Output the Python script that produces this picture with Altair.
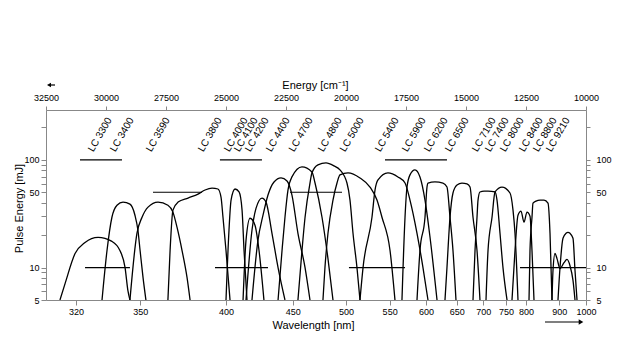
import altair as alt
import pandas as pd

# ---------------- data (wavelength in nm, pulse energy in mJ) ----------------
DYES = ["LC 3300", "LC 3400", "LC 3590", "LC 3800", "LC 4000", "LC 4100", "LC 4200",
        "LC 4400", "LC 4700", "LC 4800", "LC 5000", "LC 5400", "LC 5900", "LC 6200",
        "LC 6500", "LC 7100", "LC 7400", "LC 8000", "LC 8400", "LC 8800", "LC 9210"]

LC3300_NM = [313.3, 315.4, 319.6, 323.9, 329.7, 336.1, 339.9, 342.4, 343.8, 344.8]
LC3300_MJ = [5, 7.1, 13.5, 17.1, 19.1, 17.5, 14.4, 10.0, 6.1, 5]
LC3400_NM = [331.5, 333.8, 336.1, 338.5, 341.4, 344.8, 347.3, 348.8, 349.9, 351.4, 352.9]
LC3400_MJ = [5, 14.4, 29.3, 37.9, 40.5, 38.8, 30.6, 22.2, 14.4, 8.1, 5]
LC3590_NM = [344.8, 348.3, 350.9, 354.0, 359.3, 364.7, 367.5, 369.8, 372.7, 375.6, 377.4]
LC3590_MJ = [5, 20.8, 29.3, 36.4, 40.5, 37.9, 32.7, 23.7, 14.4, 8.1, 5]
LC3800_NM = [364.7, 365.9, 367.5, 370.4, 376.2, 382.2, 386.5, 390.9, 394.7, 396.7, 398.0, 400.0, 402.7]
LC3800_MJ = [5, 14.4, 34.1, 40.5, 44.2, 48.1, 52.5, 54.7, 53.6, 45.1, 29.3, 14.4, 5]
LC4000_NM = [400.0, 402.0, 403.4, 406.1, 408.9, 411.0, 412.4, 414.5]
LC4000_MJ = [5, 22.2, 42.3, 53.6, 50.3, 34.1, 14.4, 5]
LC4100_NM = [411.7, 413.8, 416.7, 420.3, 423.3, 427.0]
LC4100_MJ = [5, 17.9, 28.7, 24.7, 14.4, 5]
LC4200_NM = [413.8, 418.1, 421.1, 425.5, 428.6, 433.2, 438.0, 443.6]
LC4200_MJ = [5, 22.2, 35.6, 44.2, 40.5, 20.8, 10.0, 5]
LC4400_NM = [418.1, 422.5, 426.3, 430.1, 434.8, 440.4, 445.3, 449.4, 454.5, 460.7, 465.1]
LC4400_MJ = [5, 17.9, 30.6, 47.1, 62.3, 67.9, 63.7, 47.1, 20.8, 10.0, 5]
LC4700_NM = [438.0, 441.2, 443.6, 446.1, 449.4, 458.0, 466.9, 469.7, 476.2, 481.9, 486.8]
LC4700_MJ = [5, 14.4, 29.3, 52.5, 69.4, 86.0, 77.2, 60.9, 29.3, 12.1, 5]
LC4800_NM = [454.5, 458.0, 460.7, 465.1, 466.9, 472.4, 480.0, 487.8, 493.8, 501.0, 504.2, 507.4, 511.7, 515.0]
LC4800_MJ = [5, 14.4, 29.3, 60.9, 75.7, 89.8, 93.7, 87.9, 80.7, 60.9, 42.3, 20.8, 10.0, 5]
LC5000_NM = [477.1, 479.0, 481.9, 486.8, 490.8, 493.8, 502.1, 515.0, 526.3, 534.5, 540.5, 550.5, 556.8]
LC5000_MJ = [5, 10.0, 20.8, 42.3, 60.9, 72.5, 75.7, 67.9, 55.9, 42.3, 29.3, 14.4, 5]
LC5400_NM = [515.0, 518.4, 528.6, 532.2, 535.7, 547.9, 560.7, 570.1, 576.9, 586.8, 595.5, 603.0]
LC5400_MJ = [5, 10.0, 29.3, 52.5, 65.0, 75.7, 69.4, 60.9, 42.3, 20.8, 10.0, 5]
LC5900_NM = [566.0, 570.1, 572.8, 576.9, 583.9, 591.1, 598.5, 606.1, 617.0]
LC5900_MJ = [5, 29.3, 55.9, 72.5, 80.7, 69.4, 42.3, 19.1, 5]
LC6200_NM = [586.8, 591.1, 598.5, 601.5, 603.0, 613.8, 626.6, 633.2, 638.3, 643.4, 648.6]
LC6200_MJ = [5, 14.4, 29.3, 55.9, 60.9, 62.3, 60.9, 55.9, 29.3, 14.4, 5]
LC6500_NM = [629.9, 633.2, 638.3, 643.4, 650.4, 659.3, 668.5, 674.2, 679.9, 687.7, 693.6]
LC6500_MJ = [5, 10.0, 29.3, 49.2, 58.4, 60.9, 59.7, 55.9, 29.3, 14.4, 5]
LC7100_NM = [679.9, 683.8, 687.7, 689.7, 693.6, 701.8, 710.1, 725.1, 729.5, 736.2, 743.0, 752.4]
LC7100_MJ = [5, 14.4, 29.3, 42.3, 50.3, 51.3, 51.3, 50.3, 42.3, 20.8, 10.0, 5]
LC7400_NM = [705.9, 710.1, 718.6, 725.1, 740.7, 759.5, 766.8, 771.7, 779.2]
LC7400_MJ = [5, 14.4, 29.3, 50.3, 55.9, 49.2, 34.1, 20.8, 5]
LC8000_NM = [764.3, 771.7, 779.2, 786.9, 794.7, 802.7, 810.8, 816.3, 821.9]
LC8000_MJ = [5, 14.4, 30.6, 33.4, 26.4, 32.7, 30.0, 14.4, 5]
LC8400_NM = [808.1, 810.8, 816.3, 819.1, 827.6, 839.2, 851.1, 863.3, 869.6, 875.9]
LC8400_MJ = [5, 14.4, 29.3, 39.6, 41.4, 42.3, 42.3, 39.6, 20.8, 5]
LC8800_NM = [875.9, 879.1, 885.6, 892.2, 902.3, 916.0, 926.6, 937.5, 948.6, 956.2]
LC8800_MJ = [5, 9.4, 13.5, 12.1, 9.8, 11.1, 11.9, 10.4, 7.6, 5]
LC9210_NM = [895.5, 902.3, 912.5, 923.1, 930.2, 937.5, 948.6, 956.2, 963.9]
LC9210_MJ = [5, 10.0, 18.7, 20.8, 21.2, 20.8, 18.7, 9.4, 5]

CURVES_NM = [LC3300_NM, LC3400_NM, LC3590_NM, LC3800_NM, LC4000_NM, LC4100_NM, LC4200_NM,
             LC4400_NM, LC4700_NM, LC4800_NM, LC5000_NM, LC5400_NM, LC5900_NM, LC6200_NM,
             LC6500_NM, LC7100_NM, LC7400_NM, LC8000_NM, LC8400_NM, LC8800_NM, LC9210_NM]
CURVES_MJ = [LC3300_MJ, LC3400_MJ, LC3590_MJ, LC3800_MJ, LC4000_MJ, LC4100_MJ, LC4200_MJ,
             LC4400_MJ, LC4700_MJ, LC4800_MJ, LC5000_MJ, LC5400_MJ, LC5900_MJ, LC6200_MJ,
             LC6500_MJ, LC7100_MJ, LC7400_MJ, LC8000_MJ, LC8400_MJ, LC8800_MJ, LC9210_MJ]

# dye label positions (nm) and level (mJ)
LABEL_NM = [330.6, 340.9, 359.3, 389.6, 406.8, 413.8, 421.8, 438.0, 457.1, 483.9, 506.3,
            546.7, 582.5, 615.4, 650.4, 701.8, 729.5, 764.3, 813.6, 854.1, 895.5]
LABEL_MJ = 171

# broken grid-line fragments at 100, 50 and 10 mJ
GRID_LEVEL = [100, 100, 100, 50, 50, 10, 10, 10, 10]
GRID_FROM_NM = [321.7, 396.0, 544.2, 356.6, 447.8, 323.9, 392.8, 503.1, 784.3]
GRID_TO_NM = [340.9, 425.5, 633.2, 384.6, 495.9, 344.8, 430.1, 570.1, 1000.0]

WL_TICKS = [320, 350, 400, 450, 500, 550, 600, 650, 700, 750, 800, 900, 1000]
ENERGY_TICKS = [32500, 30000, 27500, 25000, 22500, 20000, 17500, 15000, 12500, 10000]
Y_TICKS = [5, 6, 7, 8, 9, 10, 20, 30, 40, 50, 60, 70, 80, 90, 100, 200]
Y_LABELS = [5, 10, 50, 100]

# ---------------- tables ----------------
rows = []
for name, nms, mjs in zip(DYES, CURVES_NM, CURVES_MJ):
    for i, (w, e) in enumerate(zip(nms, mjs)):
        rows.append({"dye": name, "i": i, "nm": w, "mJ": e})
curve_df = pd.DataFrame(rows)
label_df = pd.DataFrame({"dye": DYES, "nm": LABEL_NM, "mJ": [LABEL_MJ] * len(DYES)})
grid_df = pd.DataFrame({"level": GRID_LEVEL, "nm1": GRID_FROM_NM, "nm2": GRID_TO_NM})
one = pd.DataFrame({"k": [0]})

FONT = "Liberation Sans"
xscale = alt.Scale(domain=[10000, 32500], reverse=True, zero=False, nice=False)
yscale = alt.Scale(type="log", domain=[5, 290], nice=False)
ylabel_expr = "indexof(" + str(Y_LABELS) + ", datum.value) >= 0 ? datum.label : ''"

bottom_axis = alt.Axis(
    orient="bottom", values=[1e7 / w for w in WL_TICKS],
    labelExpr="format(1e7 / datum.value, '.0f')",
    title="Wavelength [nm]", titleX=267, titleY=25, titleBaseline="middle",
    tickSize=5, labelPadding=2, labelFontSize=9, titleFontSize=11,
    titleFontWeight="normal", grid=False, labelFlush=False,
)
top_axis = alt.Axis(
    orient="top", values=ENERGY_TICKS, format="d",
    title="Energy [cm⁻¹]", titleX=269, titleY=-25, titleBaseline="middle",
    tickSize=4, labelPadding=4, labelFontSize=9, titleFontSize=11,
    titleFontWeight="normal", grid=False, labelFlush=False,
)
left_axis = alt.Axis(
    orient="left", values=Y_TICKS, labelExpr=ylabel_expr,
    title="Pulse Energy [mJ]", titleX=-27, titleY=98, titleAngle=270,
    titleAlign="center", titleBaseline="middle",
    tickSize=5, labelPadding=2, labelFontSize=9, titleFontSize=11,
    titleFontWeight="normal", grid=False, labelFlush=False,
)
right_axis = alt.Axis(
    orient="right", values=Y_TICKS, labelExpr=ylabel_expr, title=None,
    tickSize=4, labelPadding=6, labelFontSize=9, grid=False, labelFlush=False,
)

curves = alt.Chart(curve_df).transform_calculate(E="1e7 / datum.nm").mark_line(
    color="black", strokeWidth=1.3, interpolate="monotone", clip=True
).encode(
    x=alt.X("E:Q", scale=xscale, axis=bottom_axis),
    y=alt.Y("mJ:Q", scale=yscale, axis=left_axis),
    detail="dye:N",
    order="i:Q",
)

labels = alt.Chart(label_df).transform_calculate(E="1e7 / datum.nm").mark_text(
    angle=300, fontSize=10, font=FONT, color="black", align="center", baseline="middle"
).encode(
    x=alt.X("E:Q", scale=xscale, axis=top_axis),
    y=alt.Y("mJ:Q", scale=yscale, axis=right_axis),
    text="dye:N",
)

grid = alt.Chart(grid_df).transform_calculate(
    E1="1e7 / datum.nm1", E2="1e7 / datum.nm2"
).mark_rule(color="black", strokeWidth=1.2, clip=True).encode(
    x=alt.X("E1:Q", scale=xscale, axis=None),
    x2="E2:Q",
    y=alt.Y("level:Q", scale=yscale, axis=None),
)

# direction arrows of the two axes (decoration)
arrow_wl_line = alt.Chart(one).mark_rule(color="black", strokeWidth=1.2).encode(
    x=alt.value(499), x2=alt.value(533), y=alt.value(212))
arrow_wl_head = alt.Chart(one).mark_point(
    shape="triangle-right", filled=True, color="black", size=28, opacity=1
).encode(x=alt.value(535), y=alt.value(212))
arrow_e_line = alt.Chart(one).mark_rule(color="black", strokeWidth=1.2).encode(
    x=alt.value(3), x2=alt.value(9), y=alt.value(-25))
arrow_e_head = alt.Chart(one).mark_point(
    shape="triangle-left", filled=True, color="black", size=22, opacity=1
).encode(x=alt.value(3), y=alt.value(-25))

chart = alt.layer(
    curves, labels, grid, arrow_wl_line, arrow_wl_head, arrow_e_line, arrow_e_head
).resolve_scale(
    x="shared", y="shared"
).resolve_axis(
    x="independent", y="independent"
).properties(
    width=540, height=190,
    autosize=alt.AutoSizeParams(type="none"),
    padding={"left": 38, "top": 102, "right": 45, "bottom": 50},
).configure_view(
    stroke=None
).configure_axis(
    domainColor="black", tickColor="black", labelColor="black", titleColor="black",
    labelFont=FONT, titleFont=FONT, domainWidth=1.2, tickWidth=1,
).configure(background="white")

chart.save("out.html", embed_options={"renderer": "svg", "actions": False})
